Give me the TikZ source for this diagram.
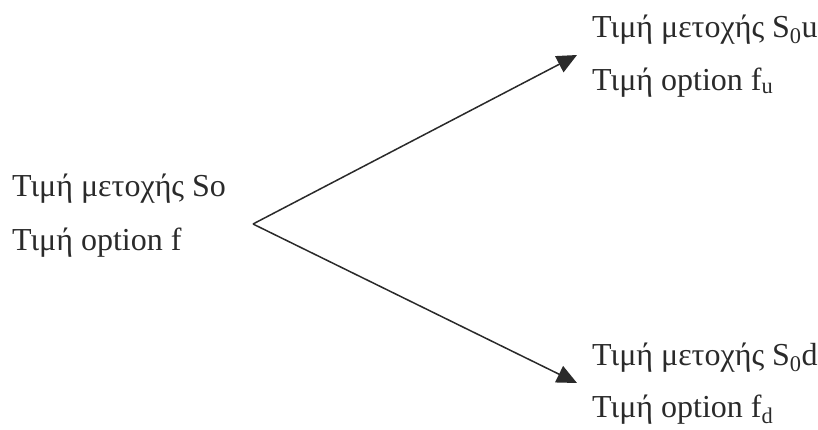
\documentclass[tikz,border=0pt]{standalone}
\usepackage{fontspec}
\setmainfont{Liberation Serif}
\usetikzlibrary{arrows.meta}
\definecolor{ink}{HTML}{2A2A2A}
\begin{document}
\begin{tikzpicture}[x=1pt,y=-1pt,
  lbl/.style={anchor=base west,inner sep=0pt,text=ink,font=\fontsize{32}{37}\selectfont},
  conn/.style={draw=ink,line width=1.5pt,-{Triangle[length=20pt,width=18pt]}}]
\useasboundingbox (0,0) rectangle (818,429);
\node[lbl] (s0) at (12,196) {Τιμή μετοχής So};
\node[lbl] (f0) at (12,250) {Τιμή option f};
\node[lbl] (su) at (592,37) {Τιμή μετοχής S\textsubscript{0}u};
\node[lbl] (fu) at (592,90) {Τιμή option f\textsubscript{u}};
\node[lbl] (sd) at (592,365) {Τιμή μετοχής S\textsubscript{0}d};
\node[lbl] (fd) at (592,417) {Τιμή option f\textsubscript{d}};
\coordinate (apex) at (253,224);
\coordinate (up) at (577,55);
\coordinate (down) at (577,383);
\draw[conn] (apex) -- (up);
\draw[conn] (apex) -- (down);
\end{tikzpicture}
\end{document}
